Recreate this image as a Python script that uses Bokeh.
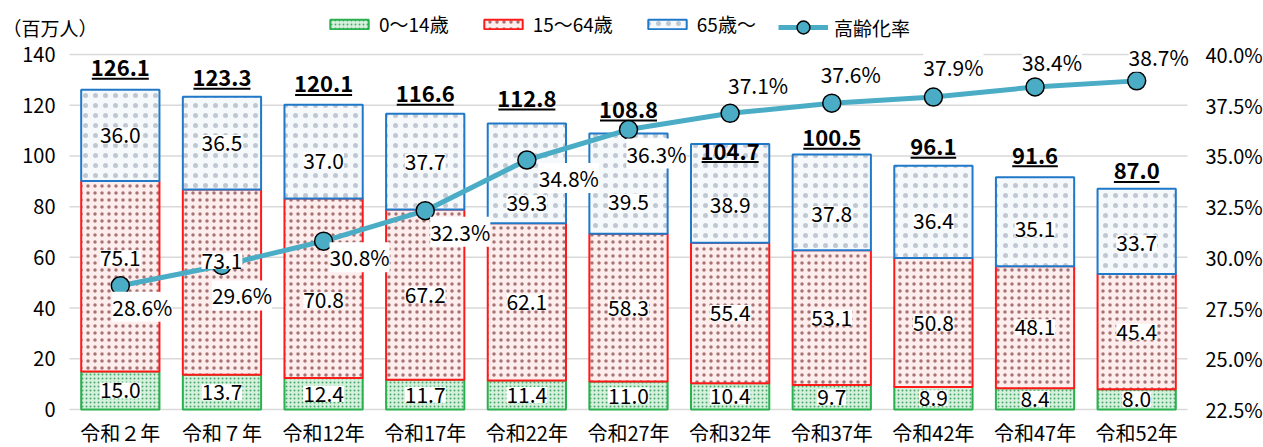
from bokeh.plotting import figure
from bokeh.models import (ColumnDataSource, LabelSet, Label, Legend, LegendItem, Range1d)
from bokeh.core.properties import value
from bokeh.embed import file_html
from bokeh.resources import INLINE

# ---------------- data ----------------
categories = ["令和２年", "令和７年", "令和12年", "令和17年", "令和22年", "令和27年",
              "令和32年", "令和37年", "令和42年", "令和47年", "令和52年"]
age_0_14 = [15.0, 13.7, 12.4, 11.7, 11.4, 11.0, 10.4, 9.7, 8.9, 8.4, 8.0]
age_15_64 = [75.1, 73.1, 70.8, 67.2, 62.1, 58.3, 55.4, 53.1, 50.8, 48.1, 45.4]
age_65_over = [36.0, 36.5, 37.0, 37.7, 39.3, 39.5, 38.9, 37.8, 36.4, 35.1, 33.7]
totals = [126.1, 123.3, 120.1, 116.6, 112.8, 108.8, 104.7, 100.5, 96.1, 91.6, 87.0]
aging_rate = [28.6, 29.6, 30.8, 32.3, 34.8, 36.3, 37.1, 37.6, 37.9, 38.4, 38.7]
left_ticks = [0, 20, 40, 60, 80, 100, 120, 140]
right_ticks = [22.5, 25.0, 27.5, 30.0, 32.5, 35.0, 37.5, 40.0]
series_names = ["0～14歳", "15～64歳", "65歳～", "高齢化率"]
unit_label = "（百万人）"

# ---------------- label nudges (screen px, + = down / right) ----------------
red_nudge = [-18, -21, 12, 0, 0, 0, 0, 0, 0, 0, 0]
blue_nudge = [0, 0, 9, 0, 30, 18, 12, 12, 9, 7, 12]
total_lift = [22, 19, 21, 20, 25, 24, -7, 17, 19, 22, 18]
pct_dx = [22, 20, 36, 35, 42, 28, 28, 19, 20, 17, 22]
pct_dy = [21, 30, 16, 21, 18, 24, -28, -29, -30, -25, -24]

# ---------------- geometry / style ----------------
W, H = 1263, 447
AREA_L, AREA_R = 69, 1187            # plot-area edges (px)
ZERO_PX, TOP_PX = 409, 54            # where the first / last tick sits (px from top)
FONT = "Noto Sans CJK JP"
TXT = "#000000"

n = len(categories)
xs = list(range(n))
ppu = (ZERO_PX - TOP_PX) / (left_ticks[-1] - left_ticks[0])
rppu = (ZERO_PX - TOP_PX) / (right_ticks[-1] - right_ticks[0])
ppx = (AREA_R - AREA_L) / n

lo2 = age_0_14
hi2 = [a + b for a, b in zip(age_0_14, age_15_64)]
hi3 = [a + b + c for a, b, c in zip(age_0_14, age_15_64, age_65_over)]

src = ColumnDataSource(dict(
    x=xs, cat=categories, zero=[0] * n,
    g_top=age_0_14, r_bot=lo2, r_top=hi2, b_bot=hi2, b_top=hi3,
    g_mid=[v / 2 for v in age_0_14],
    r_mid=[a + b / 2 for a, b in zip(lo2, age_15_64)],
    b_mid=[a + b / 2 for a, b in zip(hi2, age_65_over)],
    g_txt=[f"{v:.1f}" for v in age_0_14],
    r_txt=[f"{v:.1f}" for v in age_15_64],
    b_txt=[f"{v:.1f}" for v in age_65_over],
    r_off=[-v for v in red_nudge],
    b_off=[-v for v in blue_nudge],
    tot=totals, tot_txt=[f"{v:.1f}" for v in totals], tot_off=total_lift,
    ul_y=[t + (l - 11) / ppu for t, l in zip(totals, total_lift)],
    ul_x0=[x - len(f"{v:.1f}") * 11.4 / 2 / ppx for x, v in zip(xs, totals)],
    ul_x1=[x + len(f"{v:.1f}") * 11.4 / 2 / ppx for x, v in zip(xs, totals)],
    rate=aging_rate, rate_txt=[f"{v:.1f}%" for v in aging_rate],
    p_dx=pct_dx, p_dy=[-v for v in pct_dy],
))
lt_src = ColumnDataSource(dict(t=left_ticks, txt=[str(t) for t in left_ticks],
                               x0=[-0.5] * len(left_ticks), x1=[n - 0.5] * len(left_ticks)))
rt_src = ColumnDataSource(dict(t=right_ticks, txt=[f"{t:.1f}%" for t in right_ticks],
                               x1=[n - 0.5] * len(right_ticks)))

x_start = -0.5 - AREA_L / ppx
x_end = n - 0.5 + (W - AREA_R) / ppx
y_start = left_ticks[0] - (H - ZERO_PX) / ppu
y_end = left_ticks[-1] + TOP_PX / ppu
r_start = right_ticks[0] - (H - ZERO_PX) / rppu
r_end = right_ticks[-1] + TOP_PX / rppu

p = figure(width=W, height=H, output_backend="svg", toolbar_location=None,
           x_axis_location=None, y_axis_location=None,
           x_range=Range1d(x_start, x_end), y_range=Range1d(y_start, y_end),
           min_border_left=0, min_border_right=0, min_border_top=0, min_border_bottom=0)
p.extra_y_ranges = {"pct": Range1d(r_start, r_end)}
p.outline_line_color = None
p.background_fill_color = "white"
p.border_fill_color = "white"
p.grid.visible = False

# horizontal grid lines at the left-axis ticks, spanning the plot area
p.segment(x0="x0", x1="x1", y0="t", y1="t", source=lt_src,
          line_color="#d9d9d9", line_width=1.5)

# tick labels (left: millions, right: percent)
p.add_layout(LabelSet(x="x0", y="t", text="txt", source=lt_src, x_offset=-14,
                      text_font=value(FONT), text_font_size="20px", text_color=TXT,
                      text_align="right", text_baseline="middle"))
p.add_layout(LabelSet(x="x1", y="t", text="txt", source=rt_src, x_offset=18,
                      y_range_name="pct",
                      text_font=value(FONT), text_font_size="20px", text_color=TXT,
                      text_align="left", text_baseline="middle"))

BW = 0.77
r_g = p.vbar(x="x", bottom=0, top="g_top", width=BW, source=src,
             fill_color="#d6f0de", line_color="#2ab14f", line_width=2,
             hatch_pattern="dot", hatch_color="#4aa96a", hatch_scale=4, hatch_weight=1)
r_r = p.vbar(x="x", bottom="r_bot", top="r_top", width=BW, source=src,
             fill_color="#fdeded", line_color="#ff1a1a", line_width=2,
             hatch_pattern="dot", hatch_color="#8a4a4a", hatch_scale=7,
             hatch_weight=0.8, hatch_alpha=0.75)
r_b = p.vbar(x="x", bottom="b_bot", top="b_top", width=BW, source=src,
             fill_color="#f5f9fc", line_color="#1f78c8", line_width=2,
             hatch_pattern="dot", hatch_color="#8a98a8", hatch_scale=10,
             hatch_weight=0.6, hatch_alpha=0.5)

# underline of totals
p.segment(x0="ul_x0", x1="ul_x1", y0="ul_y", y1="ul_y", source=src,
          line_color="black", line_width=2)

r_line = p.line(x="x", y="rate", source=src, y_range_name="pct",
                line_color="#4bacc6", line_width=5)
r_pts = p.scatter(x="x", y="rate", source=src, y_range_name="pct", size=18,
                  fill_color="#4bacc6", line_color="black", line_width=1.5)

common = dict(text_font=value(FONT), text_font_size="21px", text_color=TXT,
              text_align="center", text_baseline="middle",
              background_fill_color="white")
p.add_layout(LabelSet(x="x", y="g_mid", text="g_txt", source=src, **common))
p.add_layout(LabelSet(x="x", y="r_mid", text="r_txt", y_offset="r_off", source=src, **common))
p.add_layout(LabelSet(x="x", y="b_mid", text="b_txt", y_offset="b_off", source=src, **common))
p.add_layout(LabelSet(x="x", y="rate", text="rate_txt", x_offset="p_dx", y_offset="p_dy",
                      y_range_name="pct", source=src, **common))
p.add_layout(LabelSet(x="x", y="tot", text="tot_txt", y_offset="tot_off", source=src,
                      text_font=value(FONT), text_font_size="22px", text_font_style="bold",
                      text_color=TXT, text_align="center", text_baseline="middle"))

# category labels under the bars
p.add_layout(LabelSet(x="x", y="zero", text="cat", y_offset=-23, source=src,
                      text_font=value(FONT), text_font_size="20px", text_color=TXT,
                      text_align="center", text_baseline="middle"))

# legends
leg1 = Legend(items=[LegendItem(label=series_names[0], renderers=[r_g]),
                     LegendItem(label=series_names[1], renderers=[r_r]),
                     LegendItem(label=series_names[2], renderers=[r_b])],
              location=(325, H - 37), orientation="horizontal",
              glyph_width=48, glyph_height=12, label_standoff=6, spacing=30,
              padding=0, margin=0, border_line_color=None, background_fill_alpha=0,
              label_text_font=FONT, label_text_font_size="19px", label_text_color=TXT,
              label_height=20)
leg2 = Legend(items=[LegendItem(label=series_names[3], renderers=[r_line, r_pts])],
              location=(778, H - 43), orientation="horizontal",
              glyph_width=50, glyph_height=32, label_standoff=6,
              padding=0, margin=0, border_line_color=None, background_fill_alpha=0,
              label_text_font=FONT, label_text_font_size="19px", label_text_color=TXT,
              label_height=20)
p.add_layout(leg1)
p.add_layout(leg2)

p.add_layout(Label(x=2, y=H - 27, x_units="screen", y_units="screen",
                   text=unit_label, text_font=FONT, text_font_size="19px",
                   text_color=TXT, text_baseline="middle", text_align="left"))

open("out.html", "w").write(file_html(p, INLINE))
